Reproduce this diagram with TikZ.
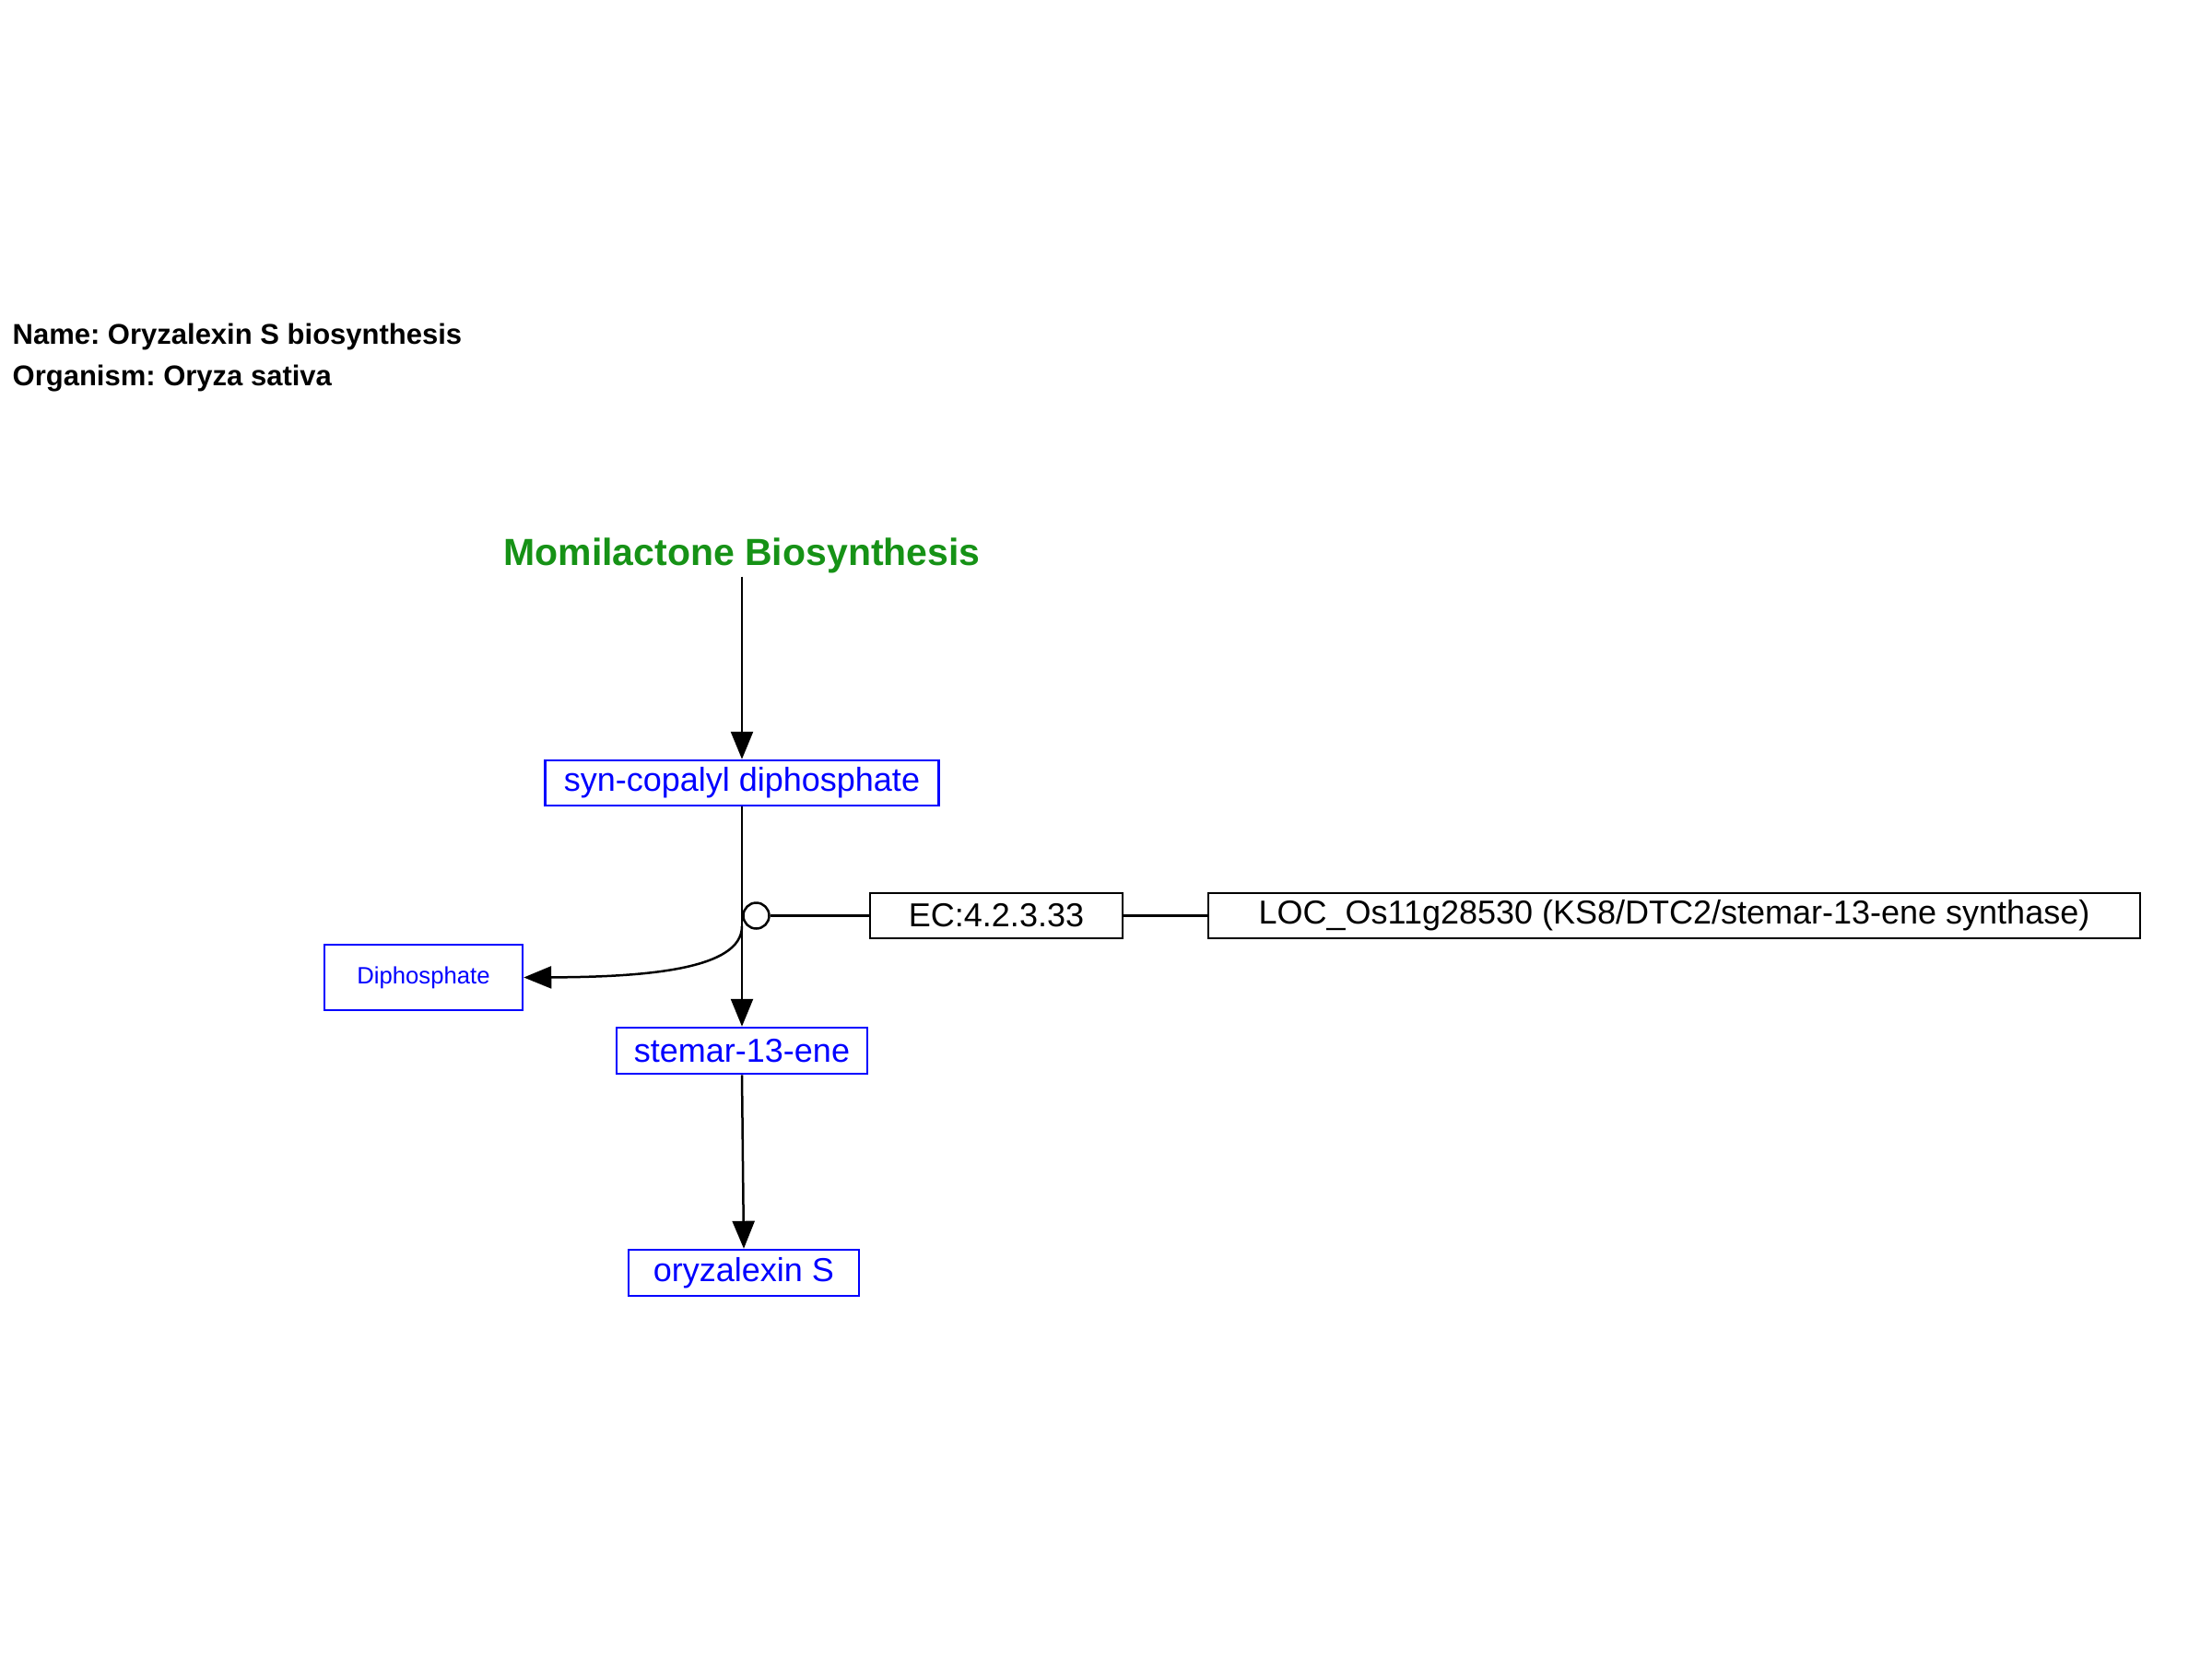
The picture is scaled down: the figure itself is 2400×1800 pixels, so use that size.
\documentclass[tikz,border=0pt]{standalone}
\usepackage{fontspec}
\setmainfont{Liberation Sans}
\usetikzlibrary{arrows.meta}
\newlength\pxu
\setlength\pxu{0.3pt}
\definecolor{momgreen}{RGB}{22,146,22}
\frenchspacing
\begin{document}
\begin{tikzpicture}[x=0.3pt,y=-0.3pt,
  cpd/.style={draw=blue,text=blue,line width=0.75pt,rectangle,inner sep=0pt,
    font=\fontsize{10.8}{13}\selectfont},
  gene/.style={draw=black,text=black,line width=0.75pt,rectangle,inner sep=0pt,
    font=\fontsize{10.8}{13}\selectfont},
  conn/.style={line width=0.75pt,draw=black},
  rxn/.style={conn,-{Triangle[length=9pt,width=7.2pt]}},
  info/.style={anchor=base west,inner sep=0pt,font=\bfseries\fontsize{9.3}{11}\selectfont}]
\useasboundingbox (0,0) rectangle (2400,1800);
\fill[white] (0,0) rectangle (2400,1800);

\node[info] (name) at (13,373) {Name: Oryzalexin S biosynthesis};
\node[info] (org) at (13,418) {Organism: Oryza sativa};

\node[anchor=base,inner sep=1pt,text=momgreen,font=\bfseries\fontsize{12.3}{15}\selectfont] (mom) at (805,613) {Momilactone Biosynthesis};

\node[cpd,minimum width=427\pxu,minimum height=49\pxu] (syn) at (805,849.5) {syn-copalyl diphosphate};
\node[gene,minimum width=274\pxu,minimum height=49\pxu] (ec) at (1081,993.5) {EC:4.2.3.33};
\node[gene,minimum width=1011\pxu,minimum height=49\pxu] (loc) at (1816.5,993.5) {LOC\_Os11g28530 (KS8/DTC2/stemar-13-ene synthase)};
\node[cpd,minimum width=215\pxu,minimum height=71\pxu,font=\fontsize{7.7}{9}\selectfont] (dip) at (459.5,1060.5) {Diphosphate};
\node[cpd,minimum width=272\pxu,minimum height=50\pxu] (stem) at (805,1140) {stemar-13-ene};
\node[cpd,minimum width=250\pxu,minimum height=50\pxu] (ory) at (807,1381) {oryzalexin S};

\node[circle,draw=black,line width=0.75pt,fill=white,inner sep=0pt,minimum size=28\pxu] (cat) at (820.5,993.5) {};
\coordinate (br) at (805,1005);

\draw[rxn] (mom.south) -- (syn.north);
\draw[rxn] (syn.south) -- (stem.north);
\draw[rxn] (br) .. controls (805,1052) and (700,1060) .. (dip.east);
\draw[rxn] (stem.south) -- (ory.north);
\draw[conn] (cat.east) -- (ec.west);
\draw[conn] (ec.east) -- (loc.west);
\end{tikzpicture}
\end{document}
